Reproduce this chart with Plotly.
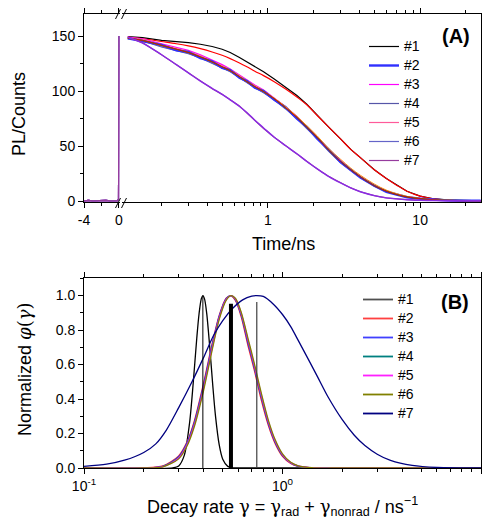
import plotly.graph_objects as go

# ---- panel A : PL decays (linear part before t = 0, log part after the break)
t_pre = [-4, -3.5, -3, -2.5, -2, -1.5, -1, -0.5, -0.15, -0.05, 0]
pl_pre = [0.3, 0.6, 0.2, 0.5, 0.4, 0.7, 0.3, 0.5, 0.4, 2, 150]

t_log = [0.12, 0.15, 0.2, 0.25, 0.3, 0.36, 0.43, 0.5, 0.565, 0.65, 0.727, 0.82,
         0.936, 1.1, 1.3, 1.55, 1.8, 2.1, 2.5, 3.0, 3.5, 4.05, 5.0, 6.0, 7.0,
         8.2, 10, 12, 15, 20, 25]

pl_1 = [149.5, 148.5, 146, 145, 144, 142.5, 140.5, 138, 135, 130.5, 126.5, 122.5,
        117.5, 111, 104, 96, 88, 78, 67.5, 56.5, 47, 39.5, 28.5, 20.5, 14.5,
        9, 4.5, 2.3, 1.1, 0.5, 0.3]
pl_2 = [148, 145.5, 142, 137, 135.5, 130, 127, 121, 119, 112, 109, 103,
        100, 92, 85.5, 75, 67.5, 57, 47, 35.5, 28.5, 21.5, 14, 8.5, 6,
        3.5, 2.2, 1.3, 0.7, 0.4, 0.3]
pl_3 = [149, 147.5, 143, 140, 137, 133, 128.5, 124, 120, 114.5, 110, 105.5,
        101, 94, 86, 77, 68, 58.5, 47, 36.5, 28.5, 22, 14, 9, 6,
        3.8, 2.2, 1.3, 0.7, 0.4, 0.3]
pl_4 = [147.5, 145.5, 140, 137, 134, 130, 125.5, 121, 117.5, 112, 107.5, 103,
        98.5, 92, 84, 75, 66, 57, 45.5, 35, 28, 21.5, 13.5, 8.5, 5.8,
        3.6, 2.1, 1.2, 0.7, 0.4, 0.3]
pl_5 = [148.5, 147, 142, 139, 136, 132, 127.5, 123, 119.5, 114, 109.5, 105,
        100.5, 93.5, 85.5, 76.5, 67.5, 58.5, 47, 36.5, 29, 22.5, 14.5, 9.2, 6.1,
        3.9, 2.3, 1.3, 0.7, 0.4, 0.3]
pl_6 = [148, 146, 140.5, 137.5, 134.5, 130.5, 126, 121.5, 118, 112.5, 108, 103.5,
        99, 92.5, 84.5, 75.5, 66.5, 57.5, 46, 35.5, 28, 21.8, 13.8, 8.8, 5.9,
        3.7, 2.2, 1.3, 0.7, 0.4, 0.3]
pl_7 = [149, 144, 133, 124, 116, 109, 102, 97, 92, 86.5, 80, 73,
        66, 58, 50.5, 43, 36, 29.5, 22.5, 16.5, 12, 8.5, 5, 3, 2,
        1.3, 0.8, 0.5, 0.4, 0.3, 0.3]

# fitted curves drawn over the data
fit_1 = [149, 147.5, 145, 143, 141, 138.5, 135.5, 132.5, 129.5, 125.5, 122, 118,
         114, 108.5, 102, 94.5, 87.5, 78, 67.5, 56.5, 47, 39.5, 28.5, 20.5, 14.5,
         9, 4.5, 2.3, 1, 0.4, 0.2]
fit_mid = [148, 146, 141.5, 138, 135, 131, 126.5, 122, 118.5, 113, 108.5, 104,
           99.5, 93, 85, 76, 67, 58, 46.5, 36, 28.5, 22, 14, 9, 6,
           3.8, 2.2, 1.3, 0.7, 0.4, 0.3]
fit_late = [148, 146, 141.5, 138, 135, 131, 126.5, 122, 118.5, 113, 108.5, 104,
            99.5, 93.5, 86, 77, 68.5, 59.5, 48, 38, 30, 23.5, 15.5, 10, 6.8,
            4.3, 2.5, 1.4, 0.8, 0.4, 0.3]
fit_7 = [149, 143.5, 133, 124, 116.5, 109, 102.5, 97, 92, 86, 80.5, 73.5,
         66.5, 58, 50.5, 43, 36, 29.5, 22.5, 16.5, 12, 8.5, 5, 3, 2,
         1.3, 0.8, 0.5, 0.4, 0.3, 0.3]

names = ["#1", "#2", "#3", "#4", "#5", "#6", "#7"]
colors_a = ["#000000", "#3030FF", "#FF00FF", "#5656A8", "#FF5A9A", "#6464C8", "#963C9E"]

# ---- panel B : rate distributions
rate_1 = [0.1, 0.28, 0.3, 0.32, 0.34, 0.355, 0.37, 0.38, 0.39, 0.397, 0.405,
          0.415, 0.43, 0.445, 0.46, 0.48, 0.5, 0.53, 0.56, 0.6, 10]
phi_1 = [0, 0.001, 0.012, 0.073, 0.258, 0.493, 0.754, 0.896, 0.982, 1.0, 0.979,
         0.898, 0.702, 0.484, 0.298, 0.134, 0.051, 0.0095, 0.0013, 0, 0]

rate_b = [0.1, 0.2, 0.25, 0.3, 0.33, 0.36, 0.4, 0.44, 0.48, 0.52, 0.55, 0.58,
          0.62, 0.67, 0.72, 0.78, 0.85, 0.92, 1.0, 1.1, 1.2, 1.4, 2, 10]
phi_2 = [0, 0.001, 0.012, 0.07, 0.15, 0.275, 0.49, 0.71, 0.885, 0.985, 0.998, 0.97,
         0.875, 0.71, 0.57, 0.40, 0.245, 0.14, 0.068, 0.026, 0.009, 0.001, 0, 0]
phi_3 = [0, 0.0006, 0.01, 0.065, 0.145, 0.265, 0.478, 0.70, 0.88, 0.982, 1.0, 0.975,
         0.885, 0.725, 0.585, 0.415, 0.255, 0.148, 0.073, 0.029, 0.01, 0.0012, 0, 0]
phi_4 = [0, 0.0005, 0.009, 0.062, 0.14, 0.26, 0.47, 0.69, 0.875, 0.978, 1.0, 0.978,
         0.89, 0.735, 0.59, 0.42, 0.26, 0.15, 0.075, 0.03, 0.011, 0.0013, 0, 0]
phi_5 = [0, 0.0004, 0.008, 0.058, 0.134, 0.252, 0.46, 0.683, 0.87, 0.976, 1.0, 0.98,
         0.895, 0.742, 0.598, 0.428, 0.266, 0.155, 0.078, 0.031, 0.012, 0.0014, 0, 0]
phi_6 = [0, 0.0003, 0.007, 0.053, 0.126, 0.242, 0.448, 0.672, 0.862, 0.972, 0.999, 0.983,
         0.902, 0.752, 0.61, 0.44, 0.275, 0.162, 0.082, 0.033, 0.013, 0.0015, 0, 0]

rate_7 = [0.1, 0.13, 0.16, 0.2, 0.23, 0.26, 0.3, 0.35, 0.4, 0.45, 0.5, 0.56, 0.63,
          0.7, 0.742, 0.8, 0.9, 1.0, 1.1, 1.2, 1.35, 1.5, 1.7, 2.0, 2.3, 2.6,
          3.0, 3.5, 4.5, 6, 10]
phi_7 = [0.01, 0.022, 0.045, 0.09, 0.14, 0.22, 0.35, 0.50, 0.64, 0.77, 0.855,
         0.925, 0.975, 0.997, 1.0, 0.995, 0.95, 0.89, 0.82, 0.74, 0.63, 0.53,
         0.41, 0.28, 0.19, 0.13, 0.08, 0.044, 0.015, 0.003, 0]

colors_b = ["#000000", "#FF2020", "#3030FF", "#008080", "#FF00FF", "#808000", "#000080"]
legend_b = ["#505050", "#FF4040", "#4040FF", "#008080", "#FF20FF", "#808000", "#000080"]

# mean rates marked as vertical bars
mean_rate = [0.397, 0.55, 0.742]
mean_height = [1.0, 0.952, 0.963]
mean_width = [1, 4, 1.2]
mean_color = ["#000000", "#000000", "#404040"]

FONT = "Liberation Sans, Arial, sans-serif"
# the page body keeps an 8 px margin, so the figure is 8 px smaller and the
# plot-area margins are given in page pixels minus that offset
OFF = 8
W, H = 490 - OFF, 519 - OFF
L, T, R, B = 84 - OFF, 14 - OFF, 9, 51
PW, PH = W - L - R, H - T - B


def px(x):
    # page pixel -> paper fraction
    return (x - 84) / PW


def py(y):
    return (468 - y) / PH


def leg_name(s):
    # legend rows are spaced by the legend font size; the label itself is 14 px
    return '<span style="font-size:14px">%s</span>' % s


fig = go.Figure()

data_a = [pl_1, pl_2, pl_3, pl_4, pl_5, pl_6, pl_7]
for i in range(7):
    fig.add_scatter(x=t_pre, y=pl_pre, xaxis="x", yaxis="y", mode="lines",
                    line=dict(color=colors_a[i], width=1.2), showlegend=False)
# draw order: #1, fit, #3..#6, #2 (noisy, broad), fits, #7
order = [0, 2, 3, 4, 5, 1, 6]
for i in order:
    fig.add_scatter(x=t_log, y=data_a[i], xaxis="x2", yaxis="y", mode="lines",
                    name=leg_name(names[i]), legend="legend", legendrank=i + 1,
                    line=dict(color=colors_a[i], width=2.4 if i == 1 else 1.2))
    if i == 0:
        fig.add_scatter(x=t_log, y=fit_1, xaxis="x2", yaxis="y", mode="lines",
                        line=dict(color="#FF0000", width=1.2, shape="spline"),
                        showlegend=False)
    if i == 1:
        for c, f in [("#FF8C00", fit_late), ("#008000", fit_mid), ("#D01010", fit_mid)]:
            fig.add_scatter(x=t_log, y=f, xaxis="x2", yaxis="y", mode="lines",
                            line=dict(color=c, width=1, shape="spline"),
                            showlegend=False)
fig.add_scatter(x=t_log, y=fit_7, xaxis="x2", yaxis="y", mode="lines",
                line=dict(color="#8A2BE2", width=1.4, shape="spline"), showlegend=False)
# carrier for the right-hand tick axis of panel A
fig.add_scatter(x=[1], y=[0], xaxis="x2", yaxis="y2", mode="markers",
                marker=dict(opacity=0), showlegend=False, hoverinfo="skip")

rates_b = [rate_1, rate_b, rate_b, rate_b, rate_b, rate_b, rate_7]
data_b = [phi_1, phi_2, phi_3, phi_4, phi_5, phi_6, phi_7]
for i in range(7):
    fig.add_scatter(x=rates_b[i], y=data_b[i], xaxis="x3", yaxis="y3", mode="lines",
                    line=dict(color=colors_b[i], width=1.3, shape="spline", smoothing=0.8),
                    showlegend=False)
    # legend entry with the lighter legend colour
    fig.add_scatter(x=[None], y=[None], xaxis="x3", yaxis="y3", mode="lines",
                    name=leg_name(names[i]), legend="legend2",
                    line=dict(color=legend_b[i], width=1.8))
for r, h, w, c in zip(mean_rate, mean_height, mean_width, mean_color):
    fig.add_scatter(x=[r, r], y=[0, h], xaxis="x3", yaxis="y3", mode="lines",
                    line=dict(color=c, width=w), showlegend=False)

axis = dict(showline=True, linecolor="black", linewidth=1, ticks="outside",
            ticklen=5, tickwidth=1, tickcolor="black", showgrid=False,
            zeroline=False, automargin=False,
            tickfont=dict(family=FONT, size=14, color="black"))
minor_log_a = [0.2, 0.3, 0.4, 0.5, 0.6, 0.7, 0.8, 0.9,
               2, 3, 4, 5, 6, 7, 8, 9, 20]
minor_log_b = [0.2, 0.3, 0.4, 0.5, 0.6, 0.7, 0.8, 0.9,
               2, 3, 4, 5, 6, 7, 8, 9]

fig.update_layout(
    template="none",
    width=W, height=H, margin=dict(l=L, r=R, t=T, b=B, autoexpand=False),
    paper_bgcolor="white", plot_bgcolor="white",
    font=dict(family=FONT, size=14, color="black"),
    xaxis=dict(axis, domain=[0, px(119.5)], range=[-4, 0.06], anchor="y",
               mirror="ticks", tickvals=[-4, 0], ticktext=["-4", "0"],
               minor=dict(tickvals=[-2], ticks="outside", ticklen=3, tickcolor="black")),
    xaxis2=dict(axis, type="log", domain=[px(122), 1], range=[-0.959, 1.40],
                anchor="y", mirror="ticks", tickvals=[1, 10], ticktext=["1", "10"],
                minor=dict(tickvals=minor_log_a, ticks="outside", ticklen=3,
                           tickcolor="black")),
    yaxis=dict(axis, domain=[py(202), 1], range=[-0.8, 170], anchor="x",
               tickvals=[0, 50, 100, 150],
               minor=dict(tickvals=[25, 75, 125], ticks="outside", ticklen=3,
                          tickcolor="black")),
    yaxis2=dict(axis, overlaying="y", anchor="x2", side="right", range=[-0.8, 170],
                tickvals=[0, 50, 100, 150], showticklabels=False,
                minor=dict(tickvals=[25, 75, 125], ticks="outside", ticklen=3,
                           tickcolor="black")),
    xaxis3=dict(axis, type="log", domain=[0, 1], range=[-1, 1], anchor="y3",
                mirror="ticks", tickvals=[0.1, 1, 10],
                ticktext=["10<sup>-1</sup>", "10<sup>0</sup>", "10<sup>1</sup>"],
                minor=dict(tickvals=minor_log_b, ticks="outside", ticklen=3,
                           tickcolor="black")),
    yaxis3=dict(axis, domain=[0, py(278.3)], range=[0, 1.1], anchor="x3",
                mirror="ticks", tickvals=[0, 0.2, 0.4, 0.6, 0.8, 1.0],
                tickformat=".1f",
                minor=dict(tickvals=[0.1, 0.3, 0.5, 0.7, 0.9, 1.1], ticks="outside",
                           ticklen=3, tickcolor="black")),
    legend=dict(x=px(364), y=py(32), xanchor="left", yanchor="top",
                bgcolor="rgba(0,0,0,0)", font=dict(family=FONT, size=11.7),
                tracegroupgap=0),
    legend2=dict(x=px(358), y=py(285), xanchor="left", yanchor="top",
                 bgcolor="rgba(0,0,0,0)", font=dict(family=FONT, size=11.5),
                 tracegroupgap=0),
    showlegend=True,
)

# axis-break marks
shapes = []
for yb in [14, 203]:
    for x0 in [115.5, 121.5]:
        shapes.append(dict(type="line", xref="paper", yref="paper",
                           x0=px(x0), y0=py(yb + 5), x1=px(x0 + 5), y1=py(yb - 5),
                           line=dict(color="black", width=1)))
fig.update_layout(shapes=shapes)

SERIF = "font-family:'DejaVu Serif'"
ann = [
    dict(text="PL/Counts", x=px(19), y=py(114), textangle=-90, font=dict(size=18)),
    dict(text="Time/ns", x=px(283), y=py(244), font=dict(size=18)),
    dict(text="Normalized <span style=\"%s\"><i>φ</i>(<i>γ</i>)</span>" % SERIF,
         x=px(24), y=py(369), textangle=-90, font=dict(size=18)),
    dict(text=("Decay rate <span style=\"{0}\">γ</span> = <span style=\"{0}\">γ</span>"
               "<sub>rad</sub> + <span style=\"{0}\">γ</span><sub>nonrad</sub>"
               " / ns<sup>−1</sup>").format(SERIF),
         x=px(282), y=py(507), font=dict(size=18)),
    dict(text="<b>(A)</b>", x=px(456), y=py(36), font=dict(size=20)),
    dict(text="<b>(B)</b>", x=px(455), y=py(302), font=dict(size=20)),
]
for a in ann:
    a.update(xref="paper", yref="paper", showarrow=False,
             xanchor="center", yanchor="middle")
fig.update_layout(annotations=ann)

fig.write_html("out.html")
